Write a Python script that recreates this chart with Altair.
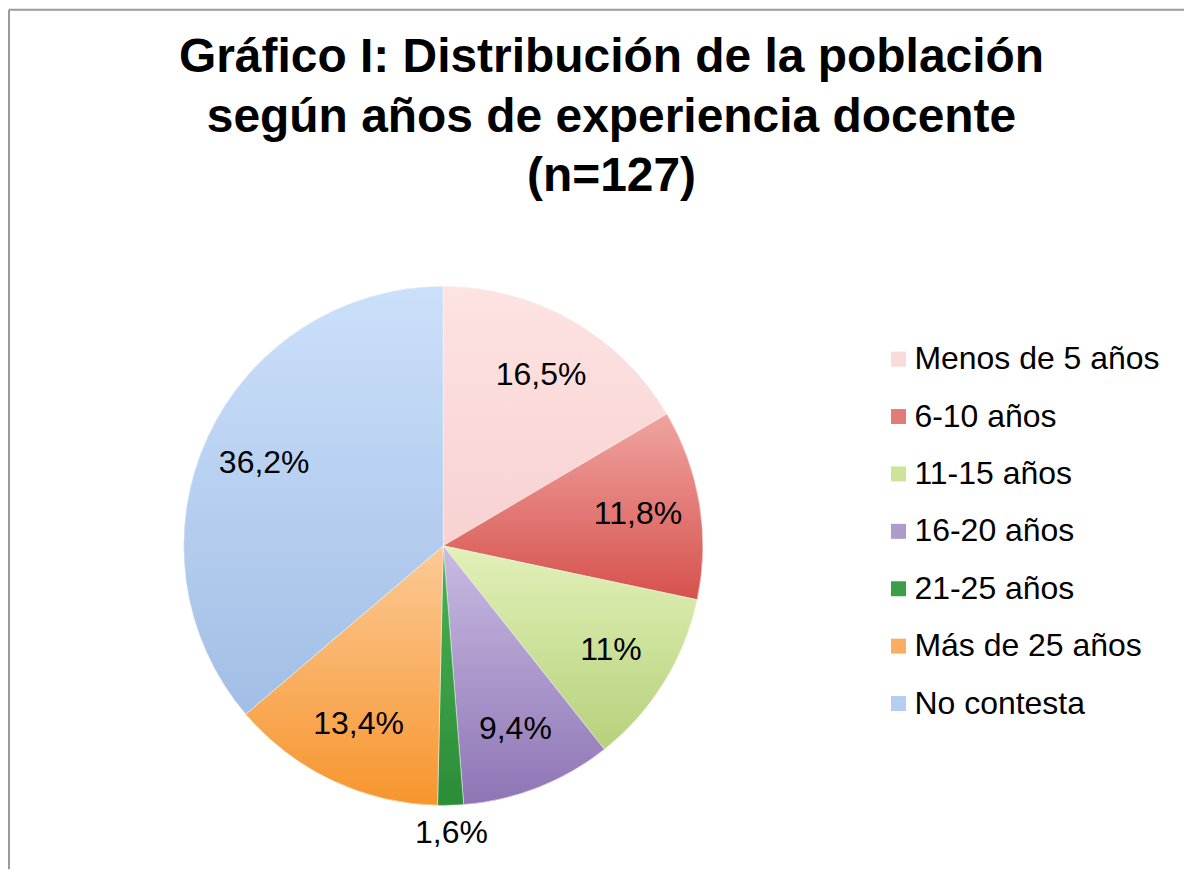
import altair as alt
import pandas as pd

categories = ["Menos de 5 años", "6-10 años", "11-15 años", "16-20 años",
              "21-25 años", "Más de 25 años", "No contesta"]
values = [16.5, 11.8, 11.0, 9.4, 1.6, 13.4, 36.2]
labels = ["16,5%", "11,8%", "11%", "9,4%", "1,6%", "13,4%", "36,2%"]
colors = ["#FADBDA", "#E27C77", "#CDE397", "#AE9ACD", "#3AA047", "#F9AE62", "#B5CEF0"]
grad_top = ["#FDE3E2", "#F0A4A0", "#E2F1B8", "#C8BBE2", "#48B352", "#FCCA96", "#CBE0FA"]
grad_bottom = ["#F7D2D1", "#D6514D", "#B6D17B", "#8E75B5", "#2C8C38", "#F7952D", "#A2BEE6"]

df = pd.DataFrame({"cat": categories, "value": values, "label": labels,
                   "idx": list(range(len(categories)))})

W, H = 1177, 861
CX, CY, R = 435, 537, 260


def angles(ch):
    return ch.transform_joinaggregate(
        total="sum(value)"
    ).transform_window(
        cum="sum(value)", sort=[alt.SortField("idx")], frame=[None, 0]
    ).transform_calculate(
        a0="(datum.cum - datum.value) / datum.total * 2 * PI",
        a1="datum.cum / datum.total * 2 * PI",
        mid="(datum.cum - datum.value / 2) / datum.total * 2 * PI",
        r=f"datum.value < 3 ? {R + 28} : {R * 0.76}",
    )


arcs = alt.Chart(df).mark_arc(outerRadius=R).encode(
    theta=alt.Theta("value:Q", stack=True),
    order=alt.Order("idx:Q"),
    color=alt.Color("cat:N", sort=categories,
                    scale=alt.Scale(domain=categories, range=colors),
                    legend=alt.Legend(title=None, orient="none", legendX=875, legendY=334,
                                      symbolType="square", symbolSize=225,
                                      symbolStrokeWidth=0, labelFontSize=32,
                                      labelFont="Liberation Sans", labelColor="#000000",
                                      labelOffset=0, rowPadding=25.5, padding=0,
                                      labelLimit=400)),
    x=alt.value(CX), y=alt.value(CY),
)

layers = [arcs]
for i, cat in enumerate(categories):
    grad = alt.Gradient(
        gradient="linear", x1=0, y1=0, x2=0, y2=1,
        stops=[alt.GradientStop(color=grad_top[i], offset=0),
               alt.GradientStop(color=grad_bottom[i], offset=1)],
    )
    layer = angles(alt.Chart(df)).transform_filter(
        alt.datum.cat == cat
    ).mark_arc(outerRadius=R, fill=grad, stroke="#ffffff", strokeWidth=0.8,
               strokeOpacity=0.6).encode(
        theta=alt.Theta("a0:Q", scale=None),
        theta2="a1:Q",
        x=alt.value(CX), y=alt.value(CY),
    )
    layers.append(layer)

text = angles(alt.Chart(df)).mark_text(
    font="Liberation Sans", fontSize=32, color="#000000"
).encode(
    theta=alt.Theta("mid:Q", scale=None),
    radius=alt.Radius("r:Q", scale=None),
    text="label:N",
    x=alt.value(CX), y=alt.value(CY),
)
layers.append(text)

border_df = pd.DataFrame({"k": [0]})
left = alt.Chart(border_df).mark_rule(color="#9a9a9a", strokeWidth=2).encode(
    x=alt.value(0), y=alt.value(0), y2=alt.value(H))
top = alt.Chart(border_df).mark_rule(color="#9a9a9a", strokeWidth=2).encode(
    x=alt.value(0), x2=alt.value(W), y=alt.value(0))
layers += [left, top]

chart = alt.layer(*layers).properties(
    width=W, height=H,
    padding=0,
    title=alt.Title(
        ["Gráfico I: Distribución de la población",
         "según años de experiencia docente",
         "(n=127)"],
        font="Liberation Sans", fontSize=48, fontWeight="bold", color="#000000",
        lineHeight=60, anchor="middle", offset=-193, dx=15,
    ),
).configure_view(stroke=None)

chart.save("out.html", embed_options={"renderer": "svg", "actions": False})
